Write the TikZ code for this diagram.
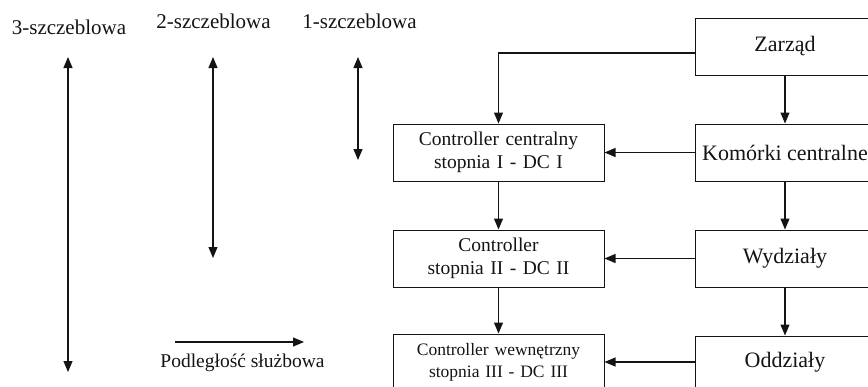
\documentclass[tikz,border=0pt]{standalone}
\usepackage{fontspec}
\setmainfont{Liberation Serif}
\usepackage{tikz}
\usetikzlibrary{arrows.meta,positioning}
\definecolor{Ink}{HTML}{141414}
\tikzset{
  box/.style={draw=Ink,line width=1pt,align=center,text=Ink,inner sep=2pt},
  rbox/.style={box,minimum width=180pt,minimum height=57pt,font=\fontsize{22}{26}\selectfont},
  lbox/.style={box,minimum width=211pt,minimum height=57pt,text width=205pt,font=\fontsize{19.5}{23.4}\selectfont},
  arrow/.style={-{Triangle[length=11pt,width=9pt]},line width=1.1pt,draw=Ink},
  twoArrow/.style={{Triangle[length=11pt,width=9pt]}-{Triangle[length=11pt,width=9pt]},line width=1.1pt,draw=Ink},
  lbl/.style={text=Ink,font=\fontsize{21}{25}\selectfont,inner sep=0pt,anchor=base}
}
\begin{document}
\begin{tikzpicture}[x=1pt,y=-1pt,node distance=48pt]
\useasboundingbox (0,0) rectangle (868,386);
\clip (0,0) rectangle (868,386);
% right column
\node[rbox] (zarzad) at (785,46.5) {Zarząd};
\node[rbox,below=of zarzad] (kom) {Komórki centralne};
\node[rbox,below=of kom] (wyd) {Wydziały};
\node[rbox,below=of wyd,minimum height=52pt] (odd) {Oddziały};
% left column
\node[lbox,left=90pt of kom] (dc1) {Controller centralny\\stopnia I - DC I};
\node[lbox,left=90pt of wyd] (dc2) {Controller\\stopnia II - DC II};
\node[lbox,left=90pt of odd,minimum height=56pt,font=\fontsize{17.5}{22}\selectfont] (dc3) {Controller wewnętrzny\\stopnia III - DC III};
\draw[arrow] (zarzad)--(kom);\draw[arrow] (kom)--(wyd);\draw[arrow] (wyd)--(odd);
\draw[arrow] ([yshift=-6.5pt]zarzad.west) -| (dc1.north);
\draw[arrow] (dc1)--(dc2);\draw[arrow] (dc2)--(dc3);
\draw[arrow] (kom)--(dc1);\draw[arrow] (wyd)--(dc2);\draw[arrow] (odd)--(dc3);
% levels
\node[lbl] (lev3) at (69,34) {3-szczeblowa};
\node[lbl] (lev2) at (213.5,28) {2-szczeblowa};
\node[lbl] (lev1) at (359.5,28) {1-szczeblowa};
\coordinate (top3) at (68,57);\coordinate (bot3) at (68,372);
\coordinate (top2) at (213,57);\coordinate (bot2) at (213,258);
\coordinate (top1) at (358,57);\coordinate (bot1) at (358,160);
\draw[twoArrow] (top3)--(bot3);\draw[twoArrow] (top2)--(bot2);\draw[twoArrow] (top1)--(bot1);
% legend
\coordinate (legA) at (175,342);\coordinate (legB) at (304,342);
\draw[arrow] (legA)--(legB);
\node[lbl,font=\fontsize{19.5}{23}\selectfont] (leg) at (242.5,367) {Podległość służbowa};
\end{tikzpicture}
\end{document}
